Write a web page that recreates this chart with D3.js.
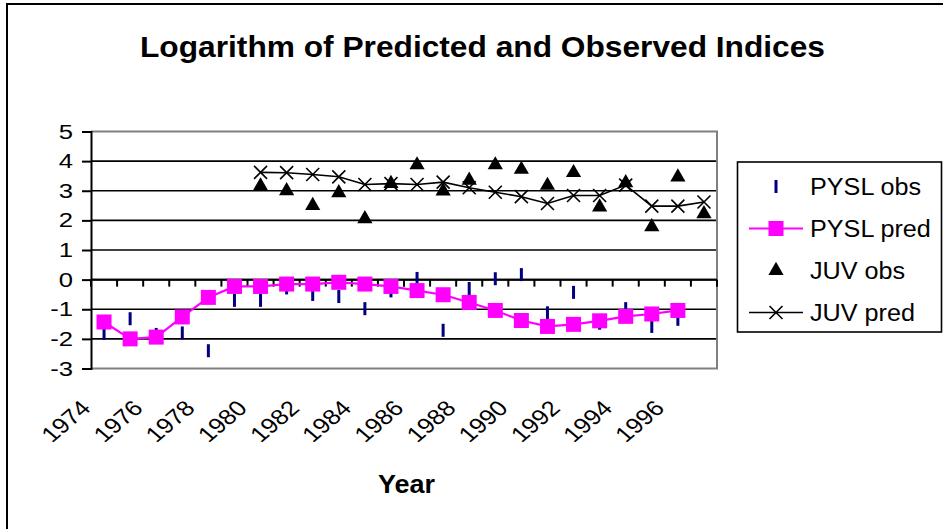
<!DOCTYPE html>
<html><head><meta charset="utf-8">
<script src="https://cdn.jsdelivr.net/npm/d3@7"></script>
<style>body{margin:0;background:#fff}svg{display:block}text{font-family:"Liberation Sans",Arial,sans-serif}</style>
</head><body>
<svg id="c" width="943" height="529"></svg>
<script>
const years = [1974,1975,1976,1977,1978,1979,1980,1981,1982,1983,1984,1985,1986,1987,1988,1989,1990,1991,1992,1993,1994,1995,1996,1997];
const yearLabels = [1974,1976,1978,1980,1982,1984,1986,1988,1990,1992,1994,1996];
const yTicks = [5,4,3,2,1,0,-1,-2,-3];
const pyslObs = [-1.81,-1.32,-1.85,-1.8,-2.4,-0.7,-0.7,-0.28,-0.5,-0.57,-0.98,-0.38,0.04,-1.71,-0.3,0.03,0.17,-1.12,-0.43,-1.47,-0.98,-1.58,-1.34,null];
const pyslPred = [-1.43,-2.0,-1.94,-1.26,-0.6,-0.23,-0.23,-0.15,-0.15,-0.09,-0.15,-0.23,-0.37,-0.51,-0.77,-1.04,-1.38,-1.58,-1.51,-1.39,-1.24,-1.16,-1.04,null];
const juvObs = [null,null,null,null,null,null,3.16,3.0,2.5,2.93,2.05,3.24,3.87,2.99,3.35,3.87,3.72,3.18,3.61,2.45,3.27,1.78,3.46,2.22];
const juvPred = [null,null,null,null,null,null,3.62,3.61,3.55,3.47,3.21,3.24,3.21,3.29,3.1,2.95,2.8,2.57,2.84,2.84,3.19,2.48,2.48,2.62];
const seriesNames = ["PYSL obs","PYSL pred","JUV obs","JUV pred"];

const svg = d3.select("#c");
// outer frame
svg.append("rect").attr("x",7).attr("y",4).attr("width",960).attr("height",560)
  .attr("fill","#fff").attr("stroke","#000").attr("stroke-width",2);

const L=91, R=717, T=131.5, B=368.5;
const x = d3.scaleBand().domain(years).range([L,R]);
const y = d3.scaleLinear().domain([-3,5]).range([B,T]);
const cx = d => x(d)+x.bandwidth()/2;

// title
svg.append("text").attr("x",140).attr("y",57).attr("text-anchor","start")
  .attr("font-size",29).attr("font-weight","bold")
  .attr("textLength",685).attr("lengthAdjust","spacingAndGlyphs")
  .text("Logarithm of Predicted and Observed Indices");

// gridlines
svg.append("g").selectAll("line").data(yTicks.filter(v=>v!==5&&v!==-3)).join("line")
  .attr("x1",L).attr("x2",R).attr("y1",d=>y(d)).attr("y2",d=>y(d))
  .attr("stroke","#000").attr("stroke-width",1.6);
// plot border
svg.append("path").attr("d",`M${L},${T}H${R}V${B}H${L}`).attr("fill","none")
  .attr("stroke","#808080").attr("stroke-width",2);

// y axis
const yAxis = d3.axisLeft(y).tickValues(yTicks).tickSize(9).tickPadding(8).tickFormat(d3.format("d"));
const gy = svg.append("g").attr("transform",`translate(${L},0)`).call(yAxis);
gy.select(".domain").attr("stroke","#000").attr("stroke-width",2);
gy.selectAll(".tick line").attr("stroke","#000").attr("stroke-width",2);
gy.selectAll(".tick text").remove();
svg.append("g").selectAll("text").data(yTicks).join("text")
  .attr("transform",d=>`translate(${L-18},${y(d)+7}) scale(1.25,1)`)
  .attr("text-anchor","end").attr("font-size",20.5)
  .text(d=>d<0?"-"+Math.abs(d):d);

// x axis at y=0 with ticks at category boundaries
const bounds = years.map(d=>x(d)).concat([R]);
svg.append("line").attr("x1",L).attr("x2",R).attr("y1",y(0)).attr("y2",y(0)).attr("stroke","#000").attr("stroke-width",2);
svg.append("g").selectAll("line").data(bounds).join("line")
  .attr("x1",d=>d).attr("x2",d=>d).attr("y1",y(0)).attr("y2",y(0)+7).attr("stroke","#000").attr("stroke-width",2);

// x labels
svg.append("g").selectAll("text").data(yearLabels).join("text")
  .attr("transform",d=>`translate(${cx(d)-12},${B+41}) scale(1.18,1) rotate(-45)`)
  .attr("text-anchor","end").attr("font-size",21.6).text(d=>d);

svg.append("text").attr("x",378).attr("y",493).attr("text-anchor","start")
  .attr("font-size",25).attr("font-weight","bold")
  .attr("textLength",57).attr("lengthAdjust","spacingAndGlyphs").text("Year");

// series
const obsP = years.map((d,i)=>({yr:d,v:pyslObs[i]})).filter(p=>p.v!=null);
const predP = years.map((d,i)=>({yr:d,v:pyslPred[i]})).filter(p=>p.v!=null);
const jObs = years.map((d,i)=>({yr:d,v:juvObs[i]})).filter(p=>p.v!=null);
const jPred = years.map((d,i)=>({yr:d,v:juvPred[i]})).filter(p=>p.v!=null);

svg.append("g").selectAll("rect").data(obsP).join("rect")
  .attr("x",d=>cx(d.yr)-1.5).attr("y",d=>y(d.v)-6.5).attr("width",3).attr("height",13).attr("fill","#000080");

const line = d3.line().x(d=>cx(d.yr)).y(d=>y(d.v));
svg.append("path").datum(predP).attr("d",line).attr("fill","none").attr("stroke","#FF00FF").attr("stroke-width",2.2);
svg.append("g").selectAll("rect").data(predP).join("rect")
  .attr("x",d=>cx(d.yr)-7.5).attr("y",d=>y(d.v)-7.5).attr("width",15).attr("height",15).attr("fill","#FF00FF");

const tri = d3.symbol().type(d3.symbolTriangle).size(100);
svg.append("g").selectAll("path").data(jObs).join("path")
  .attr("transform",d=>`translate(${cx(d.yr)},${y(d.v)})`).attr("d",tri).attr("fill","#000");

svg.append("path").datum(jPred).attr("d",line).attr("fill","none").attr("stroke","#000").attr("stroke-width",1.6);
const cross = "M-6.5,-6.5L6.5,6.5M-6.5,6.5L6.5,-6.5";
svg.append("g").selectAll("path").data(jPred).join("path")
  .attr("transform",d=>`translate(${cx(d.yr)},${y(d.v)})`).attr("d",cross).attr("stroke","#000").attr("stroke-width",1.6).attr("fill","none");

// legend
const lg = svg.append("g");
lg.append("rect").attr("x",737.5).attr("y",162).attr("width",204).attr("height",170).attr("fill","#fff").attr("stroke","#000").attr("stroke-width",1.6);
const ly = [186.5,228.5,270.5,312.5];
seriesNames.forEach((n,i)=>{
  lg.append("text").attr("transform",`translate(810,${ly[i]+8.5}) scale(1.05,1)`).attr("font-size",24).text(n);
});
lg.append("rect").attr("x",774.5).attr("y",ly[0]-6.5).attr("width",3).attr("height",13).attr("fill","#000080");
lg.append("line").attr("x1",749).attr("x2",803).attr("y1",ly[1]).attr("y2",ly[1]).attr("stroke","#FF00FF").attr("stroke-width",2.2);
lg.append("rect").attr("x",776-7.5).attr("y",ly[1]-7.5).attr("width",15).attr("height",15).attr("fill","#FF00FF");
lg.append("path").attr("transform",`translate(776,${ly[2]})`).attr("d",tri).attr("fill","#000");
lg.append("line").attr("x1",749).attr("x2",803).attr("y1",ly[3]).attr("y2",ly[3]).attr("stroke","#000").attr("stroke-width",1.6);
lg.append("path").attr("transform",`translate(776,${ly[3]})`).attr("d",cross).attr("stroke","#000").attr("stroke-width",1.6);
</script>
</body></html>
